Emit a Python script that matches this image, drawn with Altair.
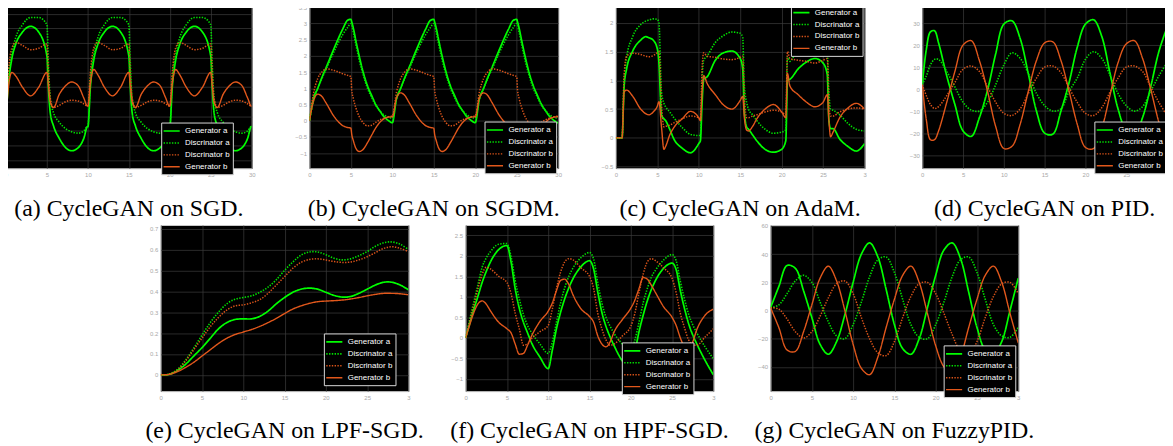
import altair as alt
import pandas as pd

SERIES = ["Generator a", "Discrinator a", "Discrinator b", "Generator b"]
LINE_COLORS = ["#00ff00", "#00e000", "#d95319", "#e2581c"]
LINE_DASH = [[1, 0], [1.4, 1.4], [1.4, 1.4], [1, 0]]
LINE_WIDTH = [1.7, 1.4, 1.4, 1.7]
X_TICKS = [0, 5, 10, 15, 20, 25, 30]

# ---------------- (a) SGD ----------------
A_X = [0, 0.3, 0.7, 1.2, 2, 3, 4, 5, 5.15, 5.4, 5.8, 6.5, 7.3, 8, 8.8, 9.5, 9.95,
       10, 10.3, 10.7, 11.2, 12, 13, 14, 15, 15.15, 15.4, 15.8, 16.5, 17.3, 18, 18.8, 19.5, 19.95,
       20, 20.3, 20.7, 21.2, 22, 23, 24, 25, 25.15, 25.4, 25.8, 26.5, 27.3, 28, 28.8, 29.5, 29.95, 30]
A_GEN_A = [0, 0.45, 0.78, 0.99, 1.15, 1.23, 1.15, 0.82, 0.45, 0.05, -0.13, -0.3, -0.43, -0.47, -0.43, -0.3, -0.14,
           -0.14, 0.4, 0.76, 0.98, 1.15, 1.23, 1.15, 0.82, 0.45, 0.05, -0.13, -0.3, -0.43, -0.47, -0.43, -0.3, -0.14,
           -0.14, 0.4, 0.76, 0.98, 1.15, 1.23, 1.15, 0.82, 0.45, 0.05, -0.13, -0.3, -0.43, -0.47, -0.43, -0.3, -0.14, -0.14]
A_DISC_A = [0, 0.55, 0.85, 1.08, 1.25, 1.35, 1.35, 1.25, 0.8, 0.25, 0.05, -0.08, -0.17, -0.21, -0.23, -0.2, -0.14,
            -0.14, 0.5, 0.83, 1.07, 1.25, 1.35, 1.35, 1.25, 0.8, 0.25, 0.05, -0.08, -0.17, -0.21, -0.23, -0.2, -0.14,
            -0.14, 0.5, 0.83, 1.07, 1.25, 1.35, 1.35, 1.25, 0.8, 0.25, 0.05, -0.08, -0.17, -0.21, -0.23, -0.2, -0.14, -0.14]
A_DISC_B = [0, 0.6, 0.93, 1.01, 0.97, 0.91, 0.93, 0.99, 0.65, 0.25, 0.12, 0.15, 0.2, 0.22, 0.21, 0.17, 0.14,
            0.14, 0.6, 0.93, 1.01, 0.97, 0.91, 0.93, 0.99, 0.65, 0.25, 0.12, 0.15, 0.2, 0.22, 0.21, 0.17, 0.14,
            0.14, 0.6, 0.93, 1.01, 0.97, 0.91, 0.93, 0.99, 0.65, 0.25, 0.12, 0.15, 0.2, 0.22, 0.21, 0.17, 0.14, 0.14]
A_GEN_B = [0, 0.4, 0.6, 0.55, 0.4, 0.28, 0.4, 0.6, 0.45, 0.2, 0.12, 0.3, 0.42, 0.47, 0.42, 0.25, 0.14,
           0.14, 0.45, 0.64, 0.57, 0.4, 0.28, 0.4, 0.6, 0.45, 0.2, 0.12, 0.3, 0.42, 0.47, 0.42, 0.25, 0.14,
           0.14, 0.45, 0.64, 0.57, 0.4, 0.28, 0.4, 0.6, 0.45, 0.2, 0.12, 0.3, 0.42, 0.47, 0.42, 0.25, 0.14, 0.14]

# ---------------- (b) SGDM ----------------
B_X = [0, 0.5, 1, 1.5, 2, 3, 4, 4.6, 5, 5.1, 5.3, 5.6, 6, 6.5, 7, 7.5, 8, 8.5, 9, 9.5, 9.95,
       10, 10.5, 11, 11.5, 12, 13, 14, 14.6, 15, 15.1, 15.3, 15.6, 16, 16.5, 17, 17.5, 18, 18.5, 19, 19.5, 19.95,
       20, 20.5, 21, 21.5, 22, 23, 24, 24.6, 25, 25.1, 25.3, 25.6, 26, 26.5, 27, 27.5, 28, 28.5, 29, 29.5, 29.95, 30]
B_GEN_A = [0, 0.69, 1.0, 1.33, 1.63, 2.25, 2.82, 3.1, 3.13, 3.05, 2.85, 2.47, 2.0, 1.48, 1.08, 0.78, 0.5, 0.3, 0.12, 0.01, -0.06,
           -0.06, 0.68, 1.0, 1.33, 1.63, 2.25, 2.82, 3.1, 3.13, 3.05, 2.85, 2.47, 2.0, 1.48, 1.08, 0.78, 0.5, 0.3, 0.12, 0.01, -0.06,
           -0.06, 0.68, 1.0, 1.33, 1.63, 2.25, 2.82, 3.1, 3.13, 3.05, 2.85, 2.47, 2.0, 1.48, 1.08, 0.78, 0.5, 0.3, 0.12, 0.01, -0.06, -0.06]
B_DISC_A = [0, 0.62, 0.98, 1.3, 1.58, 2.15, 2.65, 2.88, 3.0, 2.95, 2.72, 2.35, 1.88, 1.4, 1.0, 0.72, 0.47, 0.3, 0.18, 0.11, 0.08,
            0.08, 0.66, 0.99, 1.3, 1.58, 2.15, 2.65, 2.88, 3.0, 2.95, 2.72, 2.35, 1.88, 1.4, 1.0, 0.72, 0.47, 0.3, 0.18, 0.11, 0.08,
            0.08, 0.66, 0.99, 1.3, 1.58, 2.15, 2.65, 2.88, 3.0, 2.95, 2.72, 2.35, 1.88, 1.4, 1.0, 0.72, 0.47, 0.3, 0.18, 0.11, 0.08, 0.08]
B_DISC_B = [0, 0.85, 1.3, 1.5, 1.6, 1.55, 1.45, 1.4, 1.36, 0.95, 0.68, 0.4, 0.13, -0.07, -0.16, -0.14, -0.05, 0.03, 0.08, 0.12, 0.14,
            0.14, 0.88, 1.3, 1.5, 1.6, 1.55, 1.45, 1.4, 1.36, 0.95, 0.68, 0.4, 0.13, -0.07, -0.16, -0.14, -0.05, 0.03, 0.08, 0.12, 0.14,
            0.14, 0.88, 1.3, 1.5, 1.6, 1.55, 1.45, 1.4, 1.36, 0.95, 0.68, 0.4, 0.13, -0.07, -0.16, -0.14, -0.05, 0.03, 0.08, 0.12, 0.14, 0.14]
B_GEN_B = [0, 0.62, 0.82, 0.75, 0.55, 0.12, -0.15, -0.21, -0.23, -0.42, -0.62, -0.85, -0.95, -0.88, -0.68, -0.45, -0.22, -0.05, 0.06, 0.11, 0.12,
           0.12, 0.7, 0.86, 0.78, 0.57, 0.13, -0.15, -0.21, -0.23, -0.42, -0.62, -0.85, -0.95, -0.88, -0.68, -0.45, -0.22, -0.05, 0.06, 0.11, 0.12,
           0.12, 0.7, 0.86, 0.78, 0.57, 0.13, -0.15, -0.21, -0.23, -0.42, -0.62, -0.85, -0.95, -0.88, -0.68, -0.45, -0.22, -0.05, 0.06, 0.11, 0.12, 0.12]

# ---------------- (c) AdaM ----------------
C_X = [0, 0.75, 1.0, 1.3, 2, 3, 3.6, 4, 4.5, 5, 5.2, 5.5, 5.8, 6, 6.5, 7, 8, 9, 10, 10.2,
       10.4, 10.6, 11, 12, 13, 14, 15, 15.3, 15.5, 15.8, 16, 16.5, 17, 18, 19, 20, 20.5, 20.7, 21, 22,
       23, 24, 25, 25.5, 25.7, 25.9, 26.2, 27, 28, 29, 30]
C_GEN_A = [0, 0, 0.9, 1.2, 1.5, 1.7, 1.76, 1.74, 1.7, 1.55, 1.3, 0.4, 0.33, 0.3, 0.15, -0.02, -0.18, -0.26, -0.1, -0.05,
           0.6, 1.02, 1.06, 1.35, 1.48, 1.51, 1.38, 1.2, 0.45, 0.18, 0.15, 0.05, -0.05, -0.2, -0.25, -0.2, -0.05, 1.0, 1.02, 1.2,
           1.32, 1.38, 1.3, 1.1, 0.3, 0.16, 0.16, -0.02, -0.15, -0.23, -0.1]
C_DISC_A = [0, 0, 1.0, 1.4, 1.75, 1.97, 2.03, 2.05, 2.07, 2.06, 2.0, 0.8, 0.6, 0.54, 0.45, 0.35, 0.18, 0.06, 0.04, 0.05,
            1.0, 1.35, 1.42, 1.66, 1.78, 1.84, 1.82, 1.75, 0.9, 0.6, 0.5, 0.4, 0.3, 0.15, 0.08, 0.1, 0.14, 1.4, 1.33, 1.6,
            1.75, 1.8, 1.75, 1.5, 0.8, 0.5, 0.48, 0.4, 0.25, 0.15, 0.12]
C_DISC_B = [0, 0, 1.1, 1.42, 1.47, 1.45, 1.42, 1.41, 1.43, 1.48, 1.5, 0.6, 0.19, 0.2, 0.22, 0.26, 0.33, 0.38, 0.35, 0.3,
            1.2, 1.48, 1.42, 1.4, 1.37, 1.36, 1.4, 1.42, 0.7, 0.35, 0.35, 0.38, 0.4, 0.45, 0.48, 0.45, 0.4, 1.5, 1.38, 1.35,
            1.33, 1.3, 1.35, 1.38, 0.6, 0.38, 0.38, 0.45, 0.5, 0.52, 0.5]
C_GEN_B = [0, 0, 0.8, 0.83, 0.73, 0.5, 0.42, 0.4, 0.45, 0.55, 0.63, 0.2, -0.2, -0.15, 0.05, 0.18, 0.33, 0.46, 0.35, 0.3,
           0.8, 1.08, 0.95, 0.75, 0.57, 0.5, 0.65, 0.72, 0.35, 0.13, 0.12, 0.2, 0.33, 0.5, 0.58, 0.45, 0.35, 1.12, 0.9, 0.75,
           0.62, 0.54, 0.62, 0.75, 0.3, 0.02, 0.1, 0.35, 0.52, 0.6, 0.5]

# ---------------- (d) PID ----------------
D_X = [0, 0.5, 1, 1.5, 2, 3, 4, 5, 6, 7, 8, 9, 10, 11, 12, 13, 14, 15, 16, 17, 18, 19, 20,
       21, 22, 23, 24, 25, 26, 27, 28, 29, 30]
D_GEN_A = [2, 18, 26, 26.5, 21, 6, -7, -19, -21.5, -13, -0.5, 16, 29.5, 31, 23, 7, -10, -20, -20.5, -10, 3, 19, 29.5,
           31.5, 24, 7.5, -9, -19, -21.5, -13, 1, 17, 28]
D_DISC_A = [2, 6, 11, 13.5, 13.5, 8, 1, -6, -9.5, -10, -6, 2, 11, 16.5, 14, 7, -2, -7.5, -10, -9, -1, 5, 13.5,
            17, 14, 6.5, -2, -7.5, -10, -8, -1, 6, 12]
D_DISC_B = [2, -3, -7, -8.8, -8, -3, 3, 9, 10.5, 8, 1, -6, -11, -12, -9, -2, 5, 10, 10.5, 7.5, 0.5, -6, -11,
            -12, -8.5, -1.5, 5, 10, 10.5, 8, 1, -6, -12]
D_GEN_B = [2, -14, -23, -23, -19, -6, 8, 20, 22, 13, -1, -17, -27, -26, -16, -1, 13, 21, 21.5, 13, -1, -16, -26.5,
           -27, -18, -3, 12, 20.5, 22, 14, 0, -15, -27]

# ---------------- (e) LPF-SGD ----------------
E_X = list(range(0, 31))
E_GEN_A = [0, 0.002, 0.02, 0.05, 0.09, 0.13, 0.175, 0.22, 0.25, 0.265, 0.268, 0.268, 0.28, 0.305, 0.34, 0.37,
           0.395, 0.41, 0.415, 0.41, 0.395, 0.38, 0.372, 0.375, 0.39, 0.41, 0.43, 0.443, 0.443, 0.43, 0.407]
E_DISC_A = [0, 0.003, 0.025, 0.07, 0.128, 0.19, 0.25, 0.3, 0.34, 0.362, 0.37, 0.378, 0.395, 0.42, 0.455, 0.5,
            0.54, 0.573, 0.588, 0.588, 0.575, 0.558, 0.55, 0.555, 0.57, 0.59, 0.615, 0.632, 0.636, 0.625, 0.6]
E_DISC_B = [0, 0.003, 0.022, 0.065, 0.12, 0.175, 0.23, 0.275, 0.31, 0.33, 0.335, 0.345, 0.36, 0.39, 0.43, 0.47,
            0.51, 0.538, 0.552, 0.555, 0.55, 0.542, 0.538, 0.54, 0.55, 0.565, 0.585, 0.605, 0.613, 0.605, 0.59]
E_GEN_B = [0, 0.002, 0.015, 0.035, 0.06, 0.09, 0.12, 0.15, 0.175, 0.193, 0.205, 0.217, 0.232, 0.25, 0.27, 0.293,
           0.315, 0.33, 0.342, 0.35, 0.353, 0.355, 0.358, 0.363, 0.37, 0.378, 0.385, 0.39, 0.39, 0.388, 0.383]

# ---------------- (f) HPF-SGD ----------------
F_X = [0, 0.5, 1, 1.5, 2, 2.5, 3, 4, 5, 5.5, 6, 6.5, 7, 7.5, 8, 9, 10, 10.5, 11, 11.5, 12, 12.5, 13, 14, 15,
       15.5, 16, 16.5, 17, 17.5, 18, 19, 20, 20.5, 21, 21.5, 22, 22.5, 23, 24, 25, 25.5, 26, 26.5, 27, 27.5, 28, 29, 30]
F_GEN_A = [0, 0.35, 0.7, 1.02, 1.35, 1.62, 1.85, 2.15, 2.25, 1.85, 1.2, 0.72, 0.38, 0.12, -0.13, -0.47, -0.75, -0.3,
           0.22, 0.62, 0.95, 1.22, 1.44, 1.74, 1.88, 1.68, 1.12, 0.62, 0.28, 0.02, -0.2, -0.57, -0.75, -0.35, 0.15,
           0.55, 0.9, 1.18, 1.4, 1.7, 1.82, 1.66, 1.15, 0.72, 0.35, 0.07, -0.15, -0.55, -0.9]
F_DISC_A = [0, 0.45, 0.88, 1.3, 1.72, 1.95, 2.1, 2.28, 2.3, 1.98, 1.4, 0.95, 0.57, 0.3, 0.12, -0.15, -0.38, -0.1,
            0.38, 0.85, 1.22, 1.5, 1.7, 1.96, 2.08, 1.92, 1.35, 0.85, 0.5, 0.28, 0.1, -0.16, -0.38, -0.05, 0.38,
            0.85, 1.2, 1.48, 1.65, 1.9, 2.03, 1.88, 1.38, 0.95, 0.58, 0.32, 0.12, -0.22, -0.51]
F_DISC_B = [0, 0.4, 0.8, 1.2, 1.55, 1.72, 1.68, 1.5, 1.35, 1.08, 0.6, 0.22, -0.18, -0.15, -0.02, 0.15, 0.3, 0.7,
            1.2, 1.6, 1.85, 1.93, 1.9, 1.7, 1.5, 1.2, 0.6, 0.22, -0.05, -0.18, -0.15, 0.05, 0.28, 0.6, 1.1,
            1.55, 1.85, 1.93, 1.88, 1.7, 1.45, 1.1, 0.6, 0.25, -0.05, -0.17, -0.18, 0.02, 0.22]
F_GEN_B = [0, 0.32, 0.62, 0.83, 0.9, 0.82, 0.66, 0.38, 0.22, 0.12, -0.15, -0.4, -0.38, -0.18, 0.05, 0.4, 0.65, 0.85,
           1.15, 1.4, 1.43, 1.3, 1.05, 0.7, 0.52, 0.38, 0.05, -0.15, -0.22, -0.1, 0.15, 0.45, 0.72, 0.92, 1.2,
           1.47, 1.43, 1.28, 1.1, 0.75, 0.5, 0.3, 0.0, -0.22, -0.28, -0.1, 0.2, 0.55, 0.7]

# ---------------- (g) FuzzyPID ----------------
G_X = list(range(0, 31))
G_GEN_A = [2, 17, 32, 30, 14, -5, -24, -31, -22, -3, 20, 40, 48, 38, 15, -10, -27, -31, -20, 2, 25, 43, 48, 37,
           13, -12, -28, -31, -22, 0, 23]
G_DISC_A = [2, 4, 12, 21, 25, 20, 6, -8, -18, -20, -10, 6, 24, 36, 38, 27, 8, -10, -19, -20, -10, 6, 24, 36,
            38, 27, 8, -10, -18, -19, -12]
G_DISC_B = [2, 1, -6, -15, -19.5, -15, -4, 9, 19, 21, 12, -5, -20, -30, -32, -22, -5, 10, 19, 20, 12, -2, -17,
            -29, -32, -22, -5, 10, 19, 20, 12]
G_GEN_B = [2, -12, -28, -29, -15, 4, 23, 31.5, 21, 0, -24, -41, -45.5, -33, -12, 8, 25, 31.5, 20, -2, -25, -40,
           -45, -33, -12, 8, 25, 31.5, 20, -2, -23]

CAPTIONS = ["(a) CycleGAN on SGD.", "(b) CycleGAN on SGDM.", "(c) CycleGAN on AdaM.", "(d) CycleGAN on PID.",
            "(e) CycleGAN on LPF-SGD.", "(f) CycleGAN on HPF-SGD.", "(g) CycleGAN on FuzzyPID."]


def build(xs, cols):
    rows = []
    for name, ys in zip(SERIES, cols):
        assert len(ys) == len(xs), (name, len(ys), len(xs))
        rows += [{"x": x, "y": y, "series": name} for x, y in zip(xs, ys)]
    return pd.DataFrame(rows)


def panel(xs, cols, ydom, yticks, w, h, lx, ly, caption, interp, cut30, cap_offset, cap_dx=0):
    df = build(xs, cols)
    leg = alt.Legend(orient="none", legendX=lx, legendY=ly, title=None,
                     fillColor="#000000", strokeColor="#d8d8d8", padding=3, cornerRadius=0,
                     labelColor="#ffffff", labelFont="Liberation Sans", labelFontSize=8,
                     symbolType="M-1.8,0H1.8", symbolSize=81, symbolStrokeWidth=1.6,
                     symbolOffset=2, labelOffset=8, rowPadding=2, labelLimit=200)
    common = dict(title=None, grid=True, gridColor="#3d3d3d", gridWidth=0.7, ticks=False, domain=False,
                  labelFontSize=6, labelColor="#a8a8a8", labelFont="Liberation Sans", labelPadding=3)
    xkw = dict(common, values=X_TICKS, labelFlush=False)
    if cut30:
        xkw["labelExpr"] = "datum.value == 30 ? '3' : datum.label"
    ykw = dict(common, values=yticks, format=".2~f")
    title = alt.TitleParams(text=caption, orient="bottom", anchor="middle", frame="group",
                            font="Liberation Serif", fontSize=24, fontWeight="normal", color="#000000",
                            offset=cap_offset, dx=cap_dx)
    return alt.Chart(df, title=title).mark_line(interpolate=interp, clip=True).encode(
        x=alt.X("x:Q", scale=alt.Scale(domain=[0, 30], nice=False, zero=False), axis=alt.Axis(**xkw)),
        y=alt.Y("y:Q", scale=alt.Scale(domain=ydom, nice=False, zero=False), axis=alt.Axis(**ykw)),
        color=alt.Color("series:N", scale=alt.Scale(domain=SERIES, range=LINE_COLORS), legend=leg),
        strokeDash=alt.StrokeDash("series:N", scale=alt.Scale(domain=SERIES, range=LINE_DASH), legend=leg),
        strokeWidth=alt.StrokeWidth("series:N", scale=alt.Scale(domain=SERIES, range=LINE_WIDTH), legend=None),
    ).properties(width=w, height=h)


H = 167
TOP_OFF = 20
BOT_OFF = 19
pa = panel(A_X, [A_GEN_A, A_DISC_A, A_DISC_B, A_GEN_B], [-0.71, 1.56],
           [-0.6, -0.4, -0.2, 0, 0.2, 0.4, 0.6, 0.8, 1, 1.2, 1.4], 247, H, 156, 121, CAPTIONS[0], "monotone", False, TOP_OFF)
pb = panel(B_X, [B_GEN_A, B_DISC_A, B_DISC_B, B_GEN_B], [-1.47, 3.66],
           [-1, -0.5, 0, 0.5, 1, 1.5, 2, 2.5, 3, 3.5], 250, H, 176, 120, CAPTIONS[1], "monotone", False, TOP_OFF)
pc = panel(C_X, [C_GEN_A, C_DISC_A, C_DISC_B, C_GEN_B], [-0.53, 2.36],
           [-0.5, 0, 0.5, 1, 1.5, 2], 250, H, 176, 2, CAPTIONS[2], "monotone", True, TOP_OFF)
pd_ = panel(D_X, [D_GEN_A, D_DISC_A, D_DISC_B, D_GEN_B], [-36, 39.5],
            [-30, -20, -10, 0, 10, 20, 30], 246, H, 173, 120, CAPTIONS[3], "catmull-rom", True, TOP_OFF)
pe = panel(E_X, [E_GEN_A, E_DISC_A, E_DISC_B, E_GEN_B], [-0.078, 0.717],
           [0, 0.1, 0.2, 0.3, 0.4, 0.5, 0.6, 0.7], 249, H, 164, 109, CAPTIONS[4], "catmull-rom", True, BOT_OFF)
pf = panel(F_X, [F_GEN_A, F_DISC_A, F_DISC_B, F_GEN_B], [-1.3, 2.75],
           [-1, -0.5, 0, 0.5, 1, 1.5, 2, 2.5], 249, H, 157, 118, CAPTIONS[5], "monotone", True, BOT_OFF)
pg = panel(G_X, [G_GEN_A, G_DISC_A, G_DISC_B, G_GEN_B], [-57.2, 60.7],
           [-40, -20, 0, 20, 40, 60], 249, H, 174, 121, CAPTIONS[6], "catmull-rom", True, BOT_OFF)

spacer = alt.Chart(pd.DataFrame({"v": [0]})).mark_point(opacity=0).encode(
    x=alt.value(0), y=alt.value(0)
).properties(width=98, height=10, view=alt.ViewBackground(fill="white", stroke="white", strokeWidth=0))

RS = dict(x="independent", y="independent", color="independent", strokeDash="independent",
          strokeWidth="independent")
RL = dict(color="independent", strokeDash="independent", strokeWidth="independent")

top = alt.hconcat(pa, pb, pc, pd_, spacing=58, bounds="flush").resolve_scale(**RS).resolve_legend(**RL)
bottom = alt.hconcat(spacer, pe, pf, pg, spacing=57.5, bounds="flush").resolve_scale(**RS).resolve_legend(**RL)
chart = alt.vconcat(top, bottom, spacing=0).resolve_scale(**RS).resolve_legend(**RL)
chart = chart.properties(
    padding={"left": -18, "top": -8, "right": -5, "bottom": 0},
    background="white",
).configure_view(fill="black", stroke="#c8c8c8", strokeWidth=1)

chart.save("out.html", embed_options={"renderer": "svg", "actions": False})
